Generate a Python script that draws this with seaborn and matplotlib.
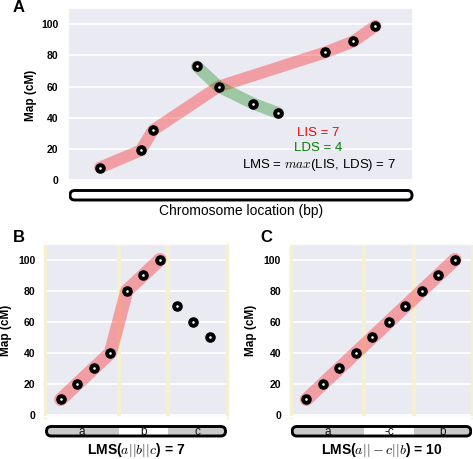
import numpy as np
import seaborn as sns
from matplotlib import pyplot as plt
from matplotlib.patches import FancyBboxPatch, Rectangle

# panel A: markers along the chromosome (x in % of axis) and map position
a_x = [9.2, 21.0, 24.6, 37.3, 43.6, 53.7, 60.9, 74.6, 82.7, 89.1]
a_y = [8, 19, 32, 73, 60, 49, 43, 82, 89, 99]
a_lis = [0, 1, 2, 4, 7, 8, 9]
a_lds = [3, 4, 5, 6]

# panel B / C: ten markers in three blocks
b_y = [10, 20, 30, 40, 80, 90, 100, 70, 60, 50]
b_lis = [0, 1, 2, 3, 4, 5, 6]
b_blocks = ['a', 'b', 'c']
c_y = [10, 20, 30, 40, 50, 60, 70, 80, 90, 100]
c_blocks = ['a', '-c', 'b']
block_edges = [3.5, 6.5]
block_colors = ['#c9c9c9', 'white', '#c9c9c9']

sns.set_theme(style="darkgrid")
plt.rcParams['font.family'] = ['Liberation Sans', 'DejaVu Sans']
plt.rcParams['mathtext.fontset'] = 'cm'
plt.rcParams['text.color'] = 'black'
plt.rcParams['axes.labelcolor'] = 'black'

W, H = 473, 459
fig = plt.figure(figsize=(W / 100, H / 100), dpi=100)


def px_axes(l, t, r, b):
    return fig.add_axes([l / W, 1 - b / H, (r - l) / W, (b - t) / H])


def style_axes(ax, ylim, label_x):
    ax.set_ylim(*ylim)
    ax.set_yticks([0, 20, 40, 60, 80, 100])
    ax.set_xticks([])
    ax.grid(axis='x', visible=False)
    ax.grid(axis='y', color='white', lw=1.3)
    ax.tick_params(axis='y', length=0, pad=7, labelsize=7.5, labelcolor='black')
    for t in ax.get_yticklabels():
        t.set_fontweight('bold')
    ax.set_ylabel('Map (cM)', fontsize=8.5, fontweight='bold', color='black')
    ax.yaxis.set_label_coords(label_x, 0.5)


def draw_points(ax, x, y):
    sns.scatterplot(x=x, y=y, color='black', s=58, linewidth=0, ax=ax, zorder=4)
    sns.scatterplot(x=x, y=y, color='white', s=3.5, linewidth=0, ax=ax, zorder=5)


def draw_path(ax, x, y, color, lw):
    sns.lineplot(x=x, y=y, sort=False, estimator=None, color=color, alpha=0.32,
                 lw=lw, solid_capstyle='round', solid_joinstyle='round', ax=ax, zorder=3)


def draw_chrom(l, t, r, b, xlim=None, blocks=None):
    bax = px_axes(l, t, r, b)
    w, h = r - l, b - t
    bax.set_xlim(0, w)
    bax.set_ylim(0, h)
    bax.axis('off')
    pad = 1.5
    pill = FancyBboxPatch((pad, pad), w - 2 * pad, h - 2 * pad,
                          boxstyle=f"round,pad=0,rounding_size={(h - 2 * pad) / 2}",
                          facecolor='white', edgecolor='none', zorder=1)
    bax.add_patch(pill)
    if blocks is not None:
        edges = [xlim[0]] + block_edges + [xlim[1]]
        for i, name in enumerate(blocks):
            x0 = (edges[i] - xlim[0]) / (xlim[1] - xlim[0]) * w
            x1 = (edges[i + 1] - xlim[0]) / (xlim[1] - xlim[0]) * w
            rect = Rectangle((x0, 0), x1 - x0, h, facecolor=block_colors[i],
                             edgecolor='none', zorder=2)
            bax.add_patch(rect)
            rect.set_clip_path(pill)
            bax.text((x0 + x1) / 2, h / 2 - 1, name, ha='center', va='center',
                     fontsize=8.5, color='#111111', zorder=3)
    outline = FancyBboxPatch((pad, pad), w - 2 * pad, h - 2 * pad,
                             boxstyle=f"round,pad=0,rounding_size={(h - 2 * pad) / 2}",
                             facecolor='none', edgecolor='black', lw=2.1, zorder=4)
    bax.add_patch(outline)
    return bax


# ---- panel A
axA = px_axes(68.3, 8.3, 413, 182)
axA.set_xlim(0, 100)
style_axes(axA, (-1.3, 110.3), -0.091)
draw_path(axA, [a_x[i] for i in a_lis], [a_y[i] for i in a_lis], 'red', 8.5)
draw_path(axA, [a_x[i] for i in a_lds], [a_y[i] for i in a_lds], 'green', 8.5)
draw_points(axA, a_x, a_y)
axA.text(72.6, 30.2, 'LIS = 7', color='red', ha='center', va='center', fontsize=9.5)
axA.text(72.6, 20.5, 'LDS = 4', color='green', ha='center', va='center', fontsize=9.5)
axA.text(72.6, 9.8, 'LMS = $max$(LIS, LDS) = 7', color='black', ha='center',
         va='center', fontsize=9.5)
draw_chrom(68.5, 189, 413.5, 201.5)
fig.text(241 / W, 1 - 211 / H, 'Chromosome location (bp)', ha='center', va='center',
         fontsize=10)

# ---- panels B and C
xlim = (-0.95, 10.05)
band = '#f4f0d4'
for (l, r, ys, blocks, label, lx, letter, letter_x) in [
        (45, 227, b_y, b_blocks, 'LMS($a||b||c$) = 7', -0.181, 'B', 13),
        (290.7, 472.3, c_y, c_blocks, 'LMS($a||-c||b$) = 10', -0.186, 'C', 260)]:
    ax = px_axes(l, 244, r, 417)
    ax.set_xlim(*xlim)
    style_axes(ax, (-1.3, 110), lx)
    for xv in block_edges:
        ax.axvline(xv, color=band, lw=3, zorder=1)
    for side in ['left', 'right']:
        ax.spines[side].set_visible(True)
        ax.spines[side].set_color(band)
        ax.spines[side].set_linewidth(2.5)
    xs = list(range(len(ys)))
    if blocks is b_blocks:
        draw_path(ax, [xs[i] for i in b_lis], [ys[i] for i in b_lis], 'red', 9.5)
    else:
        draw_path(ax, xs, ys, 'red', 9.5)
    draw_points(ax, xs, ys)
    draw_chrom(l, 425, r, 437.5, xlim, blocks)
    fig.text((l + r) / 2 / W, 1 - 450 / H, label, ha='center', va='center',
             fontsize=10, fontweight='bold')
    fig.text(letter_x / W, 1 - 237 / H, letter, ha='left', va='center',
             fontsize=12, fontweight='bold')

fig.text(13 / W, 1 - 8 / H, 'A', ha='left', va='center', fontsize=12, fontweight='bold')

fig.savefig('out.png', dpi=100)
